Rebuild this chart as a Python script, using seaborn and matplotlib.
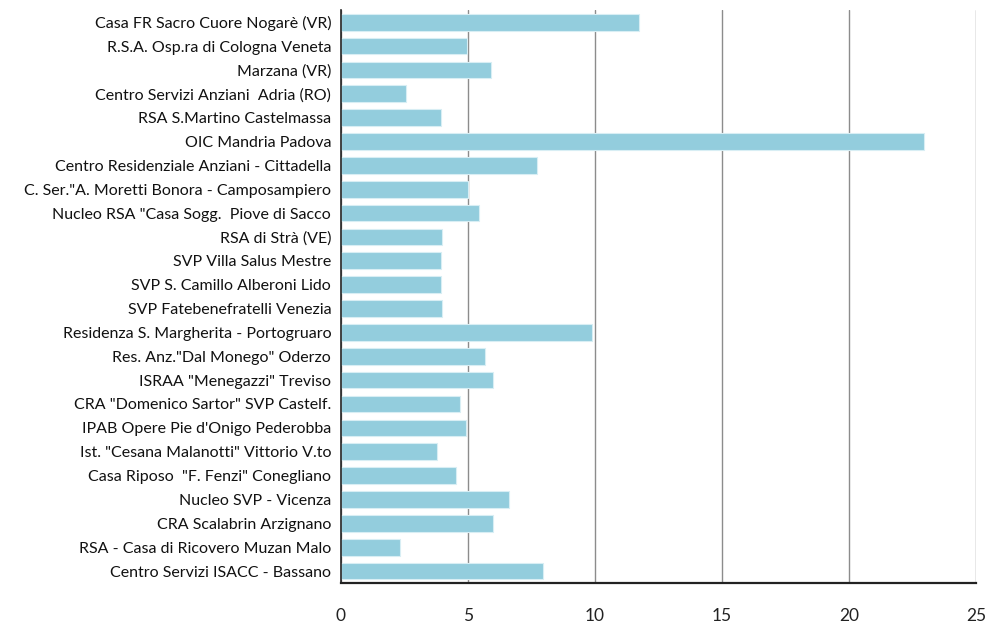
import matplotlib
matplotlib.use("Agg")
import matplotlib.pyplot as plt
import seaborn as sns
import pandas as pd

categories = [
    "Casa FR Sacro Cuore Nogarè (VR)",
    "R.S.A. Osp.ra di Cologna Veneta",
    "Marzana (VR)",
    "Centro Servizi Anziani  Adria (RO)",
    "RSA S.Martino Castelmassa",
    "OIC Mandria Padova",
    "Centro Residenziale Anziani - Cittadella",
    "C. Ser.\"A. Moretti Bonora - Camposampiero",
    "Nucleo RSA \"Casa Sogg.  Piove di Sacco",
    "RSA di Strà (VE)",
    "SVP Villa Salus Mestre",
    "SVP S. Camillo Alberoni Lido",
    "SVP Fatebenefratelli Venezia",
    "Residenza S. Margherita - Portogruaro",
    "Res. Anz.\"Dal Monego\" Oderzo",
    "ISRAA \"Menegazzi\" Treviso",
    "CRA \"Domenico Sartor\" SVP Castelf.",
    "IPAB Opere Pie d'Onigo Pederobba",
    "Ist. \"Cesana Malanotti\" Vittorio V.to",
    "Casa Riposo  \"F. Fenzi\" Conegliano",
    "Nucleo SVP - Vicenza",
    "CRA Scalabrin Arzignano",
    "RSA - Casa di Ricovero Muzan Malo",
    "Centro Servizi ISACC - Bassano",
]
values = [11.75, 4.95, 5.9, 2.58, 3.94, 22.95, 7.72, 5.0, 5.45, 3.98, 3.95, 3.95,
          3.98, 9.87, 5.69, 5.98, 4.68, 4.94, 3.78, 4.52, 6.6, 5.97, 2.33, 7.97]
x_ticks = [0, 5, 10, 15, 20, 25]

df = pd.DataFrame({"struttura": categories, "valore": values})

sns.set_theme(style="white")
plt.rcParams["font.family"] = ["Lato", "DejaVu Sans"]

fig = plt.figure(figsize=(9.91, 6.28), dpi=100)
ax = fig.add_axes([0.344, 0.0717, 0.641, 0.912])

sns.barplot(data=df, y="struttura", x="valore", orient="h", color="#93CDDD",
            saturation=1, width=0.7, edgecolor="#D8EEF4", linewidth=0.8, ax=ax)

ax.set_xlim(0, 25)
ax.set_xticks(x_ticks)
ax.set_xticklabels([str(t) for t in x_ticks], fontsize=12.5, color="#222222")
ax.set_xlabel("")
ax.set_ylabel("")
ax.tick_params(axis="x", length=0, pad=18)
ax.tick_params(axis="y", length=0, pad=7, labelsize=11.5, labelcolor="#111111")

ax.xaxis.grid(True, color="#8C8C8C", linewidth=1.0)
ax.yaxis.grid(False)
ax.set_axisbelow(True)

for s in ["top", "right"]:
    ax.spines[s].set_visible(False)
ax.spines["left"].set_color("#222222")
ax.spines["left"].set_linewidth(1.2)
ax.spines["bottom"].set_color("#222222")
ax.spines["bottom"].set_linewidth(1.6)

fig.savefig("out.png", dpi=100, facecolor="white")
